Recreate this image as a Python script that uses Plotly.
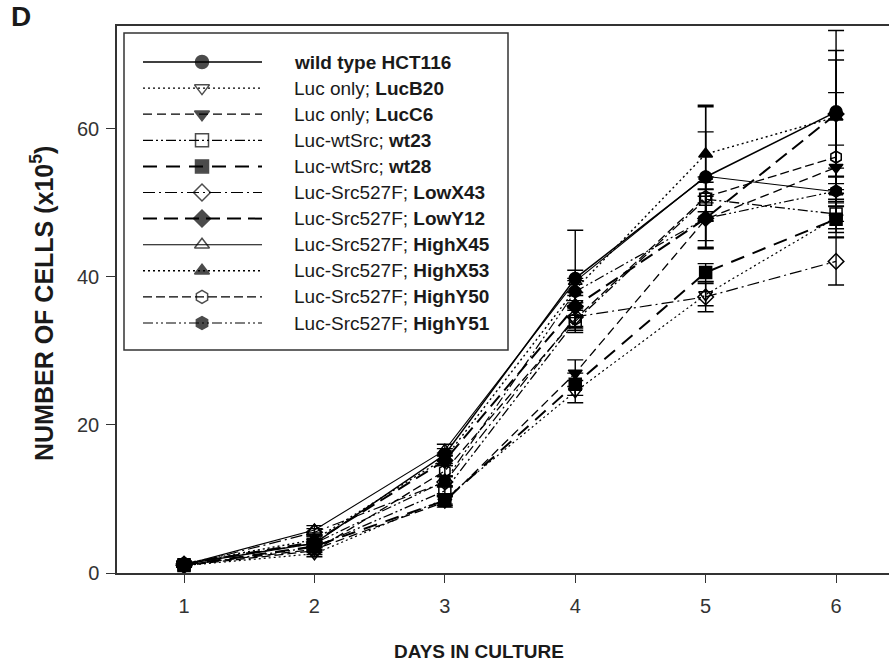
import plotly.graph_objects as go

days = [1, 2, 3, 4, 5, 6]

prefixes = ["", "Luc only; ", "Luc only; ", "Luc-wtSrc; ", "Luc-wtSrc; ",
            "Luc-Src527F; ", "Luc-Src527F; ", "Luc-Src527F; ", "Luc-Src527F; ",
            "Luc-Src527F; ", "Luc-Src527F; "]
clones = ["wild type HCT116", "LucB20", "LucC6", "wt23", "wt28", "LowX43",
          "LowY12", "HighX45", "HighX53", "HighY50", "HighY51"]

wild_type = [1.2, 4.0, 16.0, 39.8, 53.5, 62.3]
lucb20 = [1.0, 2.6, 10.0, 24.5, 37.6, 48.0]
lucc6 = [1.1, 3.2, 9.6, 27.0, 47.8, 54.8]
wt23 = [1.0, 3.5, 11.1, 34.0, 50.5, 48.5]
wt28 = [1.1, 3.6, 9.8, 25.5, 40.6, 47.8]
lowx43 = [1.0, 5.5, 12.3, 34.6, 37.3, 42.1]
lowy12 = [1.2, 4.2, 15.2, 36.0, 47.9, 62.0]
highx45 = [1.1, 5.8, 16.6, 39.4, 53.6, 51.5]
highx53 = [1.3, 4.5, 15.5, 38.3, 56.6, 61.6]
highy50 = [1.0, 3.0, 13.8, 34.3, 50.8, 56.2]
highy51 = [1.3, 4.0, 12.4, 38.0, 47.9, 51.6]

err_wild = [0.3, 0.5, 0.8, 6.5, 9.5, 11.0]
err_lucb20 = [0.2, 0.4, 0.7, 1.5, 1.5, 2.0]
err_lucc6 = [0.2, 0.4, 0.7, 1.8, 4.0, 3.0]
err_wt23 = [0.2, 0.4, 0.7, 1.5, 3.0, 2.0]
err_wt28 = [0.2, 0.4, 0.7, 1.5, 1.2, 2.4]
err_lowx43 = [0.2, 0.5, 0.7, 1.5, 2.0, 3.2]
err_lowy12 = [0.3, 0.5, 0.7, 1.5, 4.0, 7.3]
err_highx45 = [0.2, 0.6, 0.8, 1.5, 6.0, 2.0]
err_highx53 = [0.3, 0.5, 0.7, 1.5, 6.6, 9.0]
err_highy50 = [0.2, 0.5, 0.7, 1.5, 2.0, 8.7]
err_highy51 = [0.3, 0.5, 0.7, 1.5, 3.0, 2.0]

series = [wild_type, lucb20, lucc6, wt23, wt28, lowx43, lowy12,
          highx45, highx53, highy50, highy51]
errors = [err_wild, err_lucb20, err_lucc6, err_wt23, err_wt28, err_lowx43,
          err_lowy12, err_highx45, err_highx53, err_highy50, err_highy51]

symbols = ["circle", "triangle-down-open", "triangle-down", "square-open", "square",
           "diamond-open", "diamond", "triangle-up-open", "triangle-up",
           "hexagon-open", "hexagon"]
dashes = ["solid", "2px,3px", "9px,5px", "10px,3px,2px,3px,2px,3px", "14px,9px",
          "12px,4px,2px,4px", "14px,7px", "solid", "2px,3px", "9px,4px",
          "10px,3px,2px,3px,2px,3px"]
widths = [1.5, 1.2, 1.3, 1.3, 2.0, 1.2, 2.0, 1.1, 1.4, 1.3, 1.2]

FONT = "Liberation Sans, Arial, sans-serif"
fig = go.Figure()

for s, e, sym, d, w, c in zip(series, errors, symbols, dashes, widths, clones):
    fig.add_trace(go.Scatter(
        x=days, y=s, mode="lines+markers", name=c, showlegend=False,
        line=dict(color="black", width=w, dash=d),
        marker=dict(symbol=sym, size=12, color="black",
                    line=dict(color="black", width=1.5)),
        error_y=dict(type="data", array=e, visible=True, color="black",
                     thickness=1.4, width=8),
    ))

# custom legend drawn in its own pixel-like axis
row0, rowstep = 62, 26.1
for i, (sym, d, w) in enumerate(zip(symbols, dashes, widths)):
    yy = row0 + i * rowstep
    fig.add_trace(go.Scatter(
        x=[143, 202, 262], y=[yy, yy, yy], mode="lines+markers",
        xaxis="x3", yaxis="y3", showlegend=False, hoverinfo="skip",
        line=dict(color="black", width=w, dash=d),
        marker=dict(symbol=sym, size=[0, 13, 0], color="black",
                    line=dict(color="black", width=1.5)),
    ))
    label = "<b>" + clones[i] + "</b>" if prefixes[i] == "" else prefixes[i] + "<b>" + clones[i] + "</b>"
    fig.add_annotation(x=292, y=yy, xref="x3", yref="y3", text=label,
                       showarrow=False, xanchor="left", yanchor="middle",
                       font=dict(family=FONT, size=19, color="#1a1a1a"))

L, T, B, W, H = 117, 26, 92, 889, 665
pw = W - L
ph = H - T - B

def px(x):
    return (x - L) / pw

def py(y):
    return (H - B - y) / ph

fig.add_shape(type="rect", xref="paper", yref="paper",
              x0=px(124), x1=px(508), y0=py(350), y1=py(33),
              line=dict(color="#333", width=1.5))

fig.update_layout(
    width=W, height=H,
    margin=dict(l=L, r=0, t=T, b=B),
    paper_bgcolor="white", plot_bgcolor="white",
    font=dict(family=FONT, color="#222"),
    xaxis=dict(range=[0.486, 6.406], tickvals=days, ticks="outside", ticklen=8,
               tickwidth=1.2, tickcolor="#333", showline=True, linecolor="#333",
               linewidth=1.5, mirror=True, showgrid=False, zeroline=False,
               ticklabelstandoff=6,
               tickfont=dict(family=FONT, size=20, color="#333")),
    yaxis=dict(range=[0, 73.9], tickvals=[0, 20, 40, 60], ticks="outside", ticklen=9,
               tickwidth=1.2, tickcolor="#333", showline=True, linecolor="#333",
               linewidth=1.5, showgrid=False, zeroline=False,
               ticklabelstandoff=3,
               tickfont=dict(family=FONT, size=20, color="#333")),
    xaxis3=dict(domain=[px(124), px(508)], range=[124, 508], visible=False,
                anchor="y3", fixedrange=True),
    yaxis3=dict(domain=[py(350), py(33)], range=[350, 33], visible=False,
                anchor="x3", fixedrange=True),
)

fig.add_annotation(x=px(479), y=py(651), xref="paper", yref="paper",
                   text="<b>DAYS IN CULTURE</b>", showarrow=False,
                   xanchor="center", yanchor="middle",
                   font=dict(family=FONT, size=19, color="#1a1a1a"))
fig.add_annotation(x=px(42), y=py(304), xref="paper", yref="paper",
                   text="<b>NUMBER OF CELLS (x10<sup>5</sup>)</b>", showarrow=False,
                   textangle=-90, xanchor="center", yanchor="middle",
                   font=dict(family=FONT, size=25, color="#1a1a1a"))
fig.add_annotation(x=px(9), y=py(17), xref="paper", yref="paper",
                   text="<b>D</b>", showarrow=False, xanchor="left", yanchor="middle",
                   font=dict(family=FONT, size=28, color="#1a1a1a"))

fig.write_html("out.html")
